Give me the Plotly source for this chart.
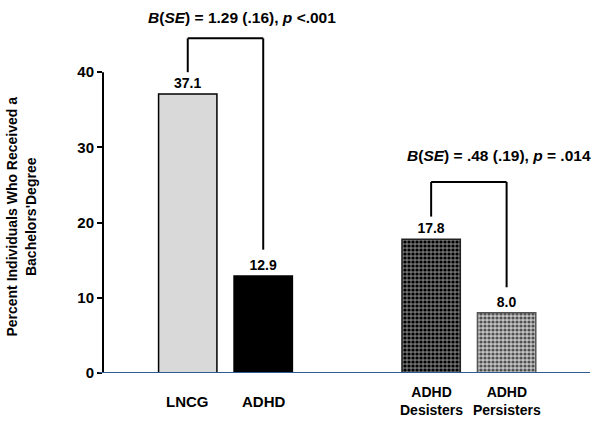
import plotly.graph_objects as go

# ---- data ----
categories = ["LNCG", "ADHD", "ADHD<br>Desisters", "ADHD<br>Persisters"]
values = [37.1, 12.9, 17.8, 8.0]
y_ticks = [0, 10, 20, 30, 40]
y_title = "Percent Individuals Who Received a<br>Bachelors'Degree"
tests = [
    "<i>B</i>(<i>SE</i>) = 1.29 (.16), <i>p</i> &lt;.001",
    "<i>B</i>(<i>SE</i>) = .48 (.19), <i>p</i> = .014",
]

# ---- layout helpers ----
group_gap = 2.225
pos = [0, 1, 1 + group_gap, 2 + group_gap]
FONT = "Liberation Sans, Arial, sans-serif"

styles = [
    dict(color="#d9d9d9", line=dict(color="#000000", width=1.5)),
    dict(color="#000000", line=dict(color="#000000", width=1.5)),
    dict(color="#3a3a3a", line=dict(color="#222222", width=1.5),
         pattern=dict(shape=".", fgcolor="#000000", bgcolor="#707070",
                      size=4, solidity=0.5, fillmode="replace")),
    dict(color="#8a8a8a", line=dict(color="#555555", width=1.5),
         pattern=dict(shape=".", fgcolor="#505050", bgcolor="#c4c4c4",
                      size=4, solidity=0.5, fillmode="replace")),
]

fig = go.Figure()
for p, v, st in zip(pos, values, styles):
    fig.add_trace(go.Bar(
        x=[p], y=[v], width=0.773, marker=st,
        text=[f"{v:.1f}"], textposition="outside",
        textfont=dict(family=FONT, size=14, color="black", weight="bold"),
        cliponaxis=False, showlegend=False, hoverinfo="skip",
    ))

shapes = []
# y axis line only up to last tick
shapes.append(dict(type="line", xref="paper", yref="y", x0=0, x1=0,
                   y0=y_ticks[0], y1=y_ticks[-1], line=dict(color="black", width=2)))
# blue baseline
shapes.append(dict(type="line", xref="paper", yref="y", x0=-0.008, x1=1,
                   y0=0, y1=0, line=dict(color="#2f5b93", width=2)))

# brackets: (left idx, right idx, top, left bottom, right bottom)
brackets = [(0, 1, 44.5, 40.0, 16.4), (2, 3, 25.4, 20.8, 11.4)]
for (a, b, top, lb, rb) in brackets:
    for (x0, y0, x1, y1) in [(pos[a], lb, pos[a], top), (pos[a], top, pos[b], top),
                             (pos[b], top, pos[b], rb)]:
        shapes.append(dict(type="line", xref="x", yref="y", x0=x0, y0=y0, x1=x1, y1=y1,
                           line=dict(color="black", width=2)))

annotations = []
text_shift = [(17, 21), (30, 26)]
for (a, b, top, lb, rb), t, (dx, dy) in zip(brackets, tests, text_shift):
    annotations.append(dict(x=(pos[a] + pos[b]) / 2, y=top, xref="x", yref="y",
                            text=t, showarrow=False, xshift=dx, yshift=dy,
                            xanchor="center", yanchor="middle",
                            font=dict(family=FONT, size=15.5, color="black", weight="bold")))

# category labels
for p, c in zip(pos, categories):
    annotations.append(dict(x=p, y=0, xref="x", yref="paper", text=c, showarrow=False,
                            xanchor="center", yanchor="middle", yshift=-28,
                            font=dict(family=FONT, size=15 if "<br>" not in c else 14,
                                      color="black", weight="bold")))

# y title
annotations.append(dict(x=0, y=(y_ticks[0] + y_ticks[-1]) / 2, xref="paper", yref="y",
                        text=y_title, showarrow=False, textangle=-90,
                        xanchor="center", yanchor="middle", xshift=-82, yshift=6,
                        font=dict(family=FONT, size=14, color="black", weight="bold")))

fig.update_layout(
    width=601, height=423, barmode="overlay",
    margin=dict(l=103, r=11, t=0, b=50),
    paper_bgcolor="white", plot_bgcolor="white",
    shapes=shapes, annotations=annotations,
    xaxis=dict(range=[-1.123, 5.33], showticklabels=False, showgrid=False,
               zeroline=False, showline=False, ticks=""),
    yaxis=dict(range=[0, 49.6], tickvals=y_ticks, showgrid=False, zeroline=False,
               showline=False, ticks="outside", ticklen=5, tickwidth=2, tickcolor="black",
               tickfont=dict(family=FONT, size=15, color="black", weight="bold")),
)

fig.write_html("out.html", config={"displayModeBar": False},
               post_script="document.body.style.margin='0';")
